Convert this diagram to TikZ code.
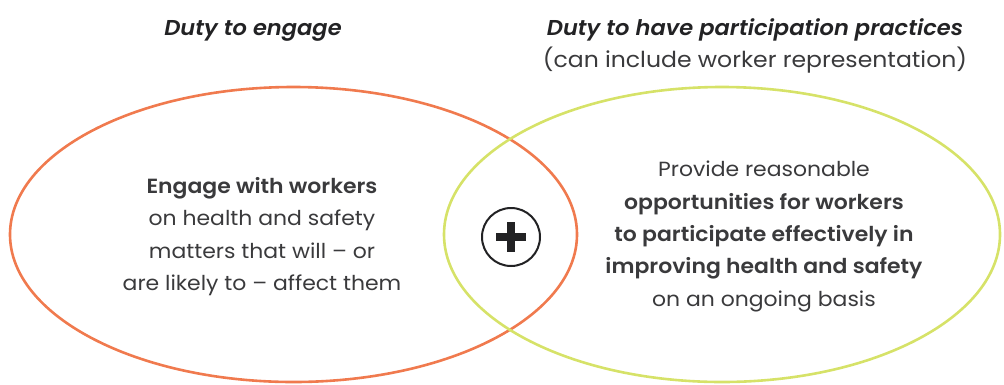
\documentclass[tikz,border=0pt]{standalone}
\usepackage{fontspec}
\setmainfont{Poppins}
% slightly widened geometric sans for all lettering
\newfontfamily\bodyfont{Poppins}[FakeStretch=1.07, BoldFont={Poppins SemiBold}]
\newfontfamily\headfont{Poppins SemiBold Italic}[FakeStretch=1.05]
\definecolor{engageorange}{RGB}{240,122,78}
\definecolor{practicegreen}{RGB}{214,226,104}
\definecolor{bodytext}{RGB}{58,58,60}
\definecolor{titletext}{RGB}{34,34,36}
\begin{document}
\begin{tikzpicture}[x=1pt,y=-1pt,
  ring/.style={line width=2.6pt},
  heading/.style={inner sep=0pt, text=titletext, font=\headfont\fontsize{21.5}{30}\selectfont},
  subheading/.style={inner sep=0pt, text=bodytext, font=\bodyfont\fontsize{22}{30}\selectfont},
  bodyblock/.style={inner sep=0pt, align=center, text=bodytext, font=\bodyfont\fontsize{20.5}{32.3}\selectfont},
  plusring/.style={circle, draw=titletext, line width=2pt, minimum size=58pt, inner sep=0pt}]
\useasboundingbox (0,0) rectangle (1004,384);
\clip (0,0) rectangle (1004,384);
% the two overlapping duty ellipses
\draw[ring, draw=engageorange] (293.5,234.5) ellipse [x radius=283.5, y radius=147.5];
\draw[ring, draw=practicegreen] (722,234.5) ellipse [x radius=278, y radius=147.5];
% headings
\node[heading, anchor=base] (engagetitle) at (253,35) {Duty to engage};
\node[heading, anchor=base] (practicetitle) at (755,35) {Duty to have participation practices};
\node[subheading, anchor=base] (practicesub) at (755,67) {(can include worker representation)};
% ellipse contents
\node[bodyblock] (engagetext) at (262,236.5) {\textbf{Engage with workers}\\on health and safety\\matters that will – or\\are likely to – affect them};
\node[bodyblock] (practicetext) at (764,236.5) {Provide reasonable\\\textbf{opportunities for workers}\\\textbf{to participate effectively in}\\\textbf{improving health and safety}\\on an ongoing basis};
% plus sign in the overlap
\node[plusring] (plus) at (511,237) {};
\fill[titletext] ([xshift=-15pt,yshift=-4pt]plus.center) rectangle ([xshift=15pt,yshift=4pt]plus.center);
\fill[titletext] ([xshift=-4pt,yshift=-15pt]plus.center) rectangle ([xshift=4pt,yshift=15pt]plus.center);
\end{tikzpicture}
\end{document}
